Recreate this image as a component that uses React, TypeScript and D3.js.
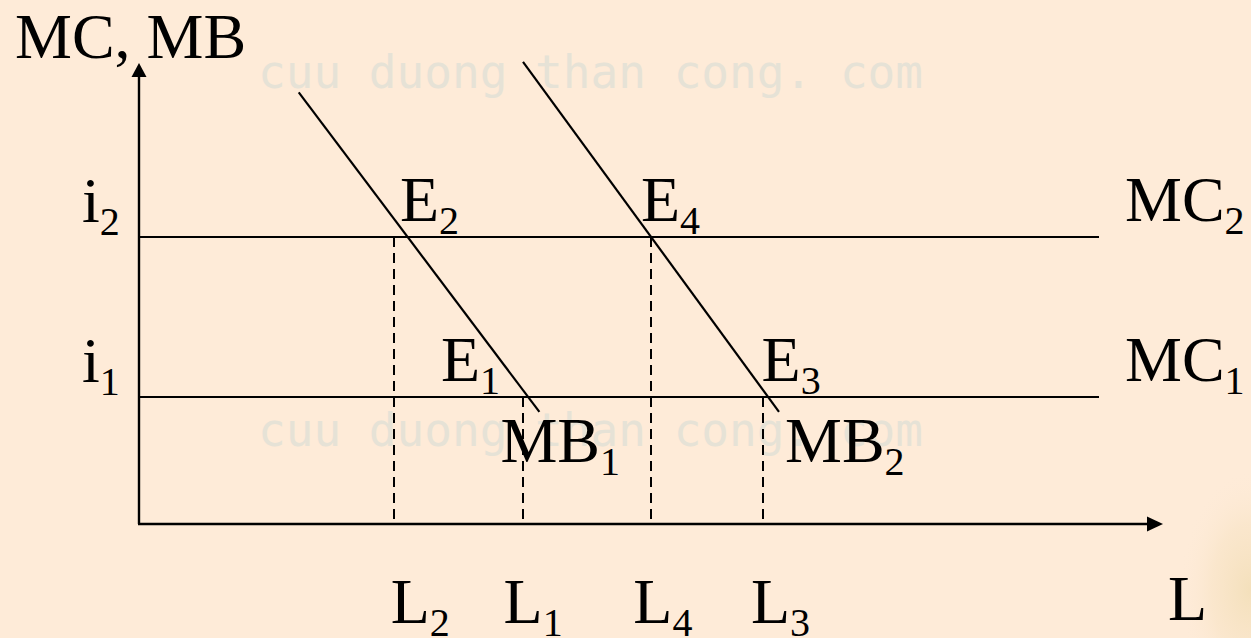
import React from "react";
import * as d3 from "d3";

const W = 1251;
const H = 638;

// ---- data (chart units: L on x, MC/MB on y) ----
const rateLabels = ["i", "i"];
const rateSubs = ["2", "1"];
const rateValues = [61.8, 27.2];

const mcNames = ["MC", "MC"];
const mcSubs = ["2", "1"];
const mcEnd = 93.75;

const quantitySubs = ["2", "1", "4", "3"];
const quantityValues = [24.9, 37.5, 50.0, 60.9];
const quantityRate = [61.8, 27.2, 61.8, 27.2];

const mb1: [number, number][] = [
  [15.6, 93.0],
  [39.1, 24.0],
];
const mb2: [number, number][] = [
  [37.5, 99.6],
  [62.5, 24.0],
];

const eqSubs = ["2", "4", "1", "3"];
const eqX = [24.9, 50.0, 37.5, 60.9];
const eqY = [61.8, 61.8, 27.2, 27.2];

const xMax = 100;
const yMax = 100;

// ---- layout ----
const x = d3.scaleLinear().domain([0, xMax]).range([139, 1163]);
const y = d3.scaleLinear().domain([0, yMax]).range([523, 60]);
const sx = (v: number) => Math.round(x(v));
const sy = (v: number) => Math.round(y(v));

const FONT = "'Liberation Serif', 'Times New Roman', Times, serif";
const MAIN = 64;
const SUB = 40;
const SUBDY = 13;

function Label({
  px,
  py,
  main,
  sub,
}: {
  px: number;
  py: number;
  main: string;
  sub?: string;
}) {
  return (
    <text x={px} y={py} fontFamily={FONT} fontSize={MAIN} fill="#000">
      <tspan>{main}</tspan>
      {sub ? (
        <tspan fontSize={SUB} dy={SUBDY}>
          {sub}
        </tspan>
      ) : null}
    </text>
  );
}

export default function App() {
  const line = d3
    .line<[number, number]>()
    .x((d) => x(d[0]))
    .y((d) => y(d[1]));

  const eqDx = [6, -10, -82, -1];
  const qDx = [-3.3, -19.4, -17.7, -11.6];

  const x0 = sx(0);
  const y0 = sy(0);
  const yTop = sy(yMax);
  const xRight = sx(xMax);

  return (
    <div style={{ position: "absolute", left: 0, top: 0 }}>
      <svg width={W} height={H} style={{ display: "block" }}>
        <defs>
          <radialGradient id="corner" cx="0.5" cy="0.5" r="0.5">
            <stop offset="0%" stopColor="#F1DDB4" stopOpacity={0.8} />
            <stop offset="55%" stopColor="#F5E0BC" stopOpacity={0.4} />
            <stop offset="100%" stopColor="#FDEBD8" stopOpacity={0} />
          </radialGradient>
        </defs>
        <rect width={W} height={H} fill="#FEEBD8" />
        <ellipse cx={1250} cy={590} rx={70} ry={120} fill="url(#corner)" />

        {/* watermark */}
        {[88, 446].map((by, i) => (
          <text
            key={i}
            x={258}
            y={by}
            fontFamily="'DejaVu Sans Mono', monospace"
            fontSize={46}
            fill="#E6E2D6"
            textLength={665}
            lengthAdjust="spacing"
          >
            cuu duong than cong. com
          </text>
        ))}

        {/* MC lines */}
        {rateValues.map((v, i) => (
          <line
            key={"mc" + i}
            x1={x0}
            x2={sx(mcEnd)}
            y1={sy(v)}
            y2={sy(v)}
            stroke="#000"
            strokeWidth={2}
          />
        ))}

        {/* dashed drop lines */}
        {quantityValues.map((q, i) => (
          <line
            key={"dl" + i}
            x1={sx(q)}
            x2={sx(q)}
            y1={sy(quantityRate[i])}
            y2={y0}
            stroke="#000"
            strokeWidth={2}
            strokeDasharray="10,6"
          />
        ))}

        {/* MB curves */}
        <path d={line(mb1) || ""} fill="none" stroke="#000" strokeWidth={2.2} />
        <path d={line(mb2) || ""} fill="none" stroke="#000" strokeWidth={2.2} />

        {/* axes */}
        <line x1={x0} x2={x0} y1={y0 + 1} y2={yTop + 10} stroke="#000" strokeWidth={2.4} />
        <polygon
          points={`${x0},${yTop + 3} ${x0 - 7.5},${yTop + 17} ${x0 + 7.5},${yTop + 17}`}
          fill="#000"
        />
        <line x1={x0 - 1} x2={xRight - 10} y1={y0 + 1} y2={y0 + 1} stroke="#000" strokeWidth={2.4} />
        <polygon
          points={`${xRight},${y0 + 1} ${xRight - 16},${y0 - 6.5} ${xRight - 16},${y0 + 8.5}`}
          fill="#000"
        />

        {/* axis titles */}
        <Label px={15} py={58} main="MC, MB" />
        <Label px={1168} py={620} main="L" />

        {/* rate labels */}
        {rateValues.map((v, i) => (
          <Label key={"r" + i} px={x0 - 57} py={y(v) - 15} main={rateLabels[i]} sub={rateSubs[i]} />
        ))}

        {/* MC labels */}
        {rateValues.map((v, i) => (
          <Label key={"m" + i} px={sx(mcEnd) + 26} py={y(v) - 16} main={mcNames[i]} sub={mcSubs[i]} />
        ))}

        {/* quantity labels */}
        {quantityValues.map((q, i) => (
          <Label key={"q" + i} px={x(q) + qDx[i]} py={y0 + 100} main="L" sub={quantitySubs[i]} />
        ))}

        {/* equilibrium labels */}
        {eqX.map((ex, i) => (
          <Label key={"e" + i} px={x(ex) + eqDx[i]} py={y(eqY[i]) - 16} main="E" sub={eqSubs[i]} />
        ))}

        {/* MB labels */}
        <Label px={x(mb1[1][0]) - 39} py={y(mb1[1][1]) + 50} main="MB" sub="1" />
        <Label px={x(mb2[1][0]) + 6} py={y(mb2[1][1]) + 50} main="MB" sub="2" />
      </svg>
    </div>
  );
}
